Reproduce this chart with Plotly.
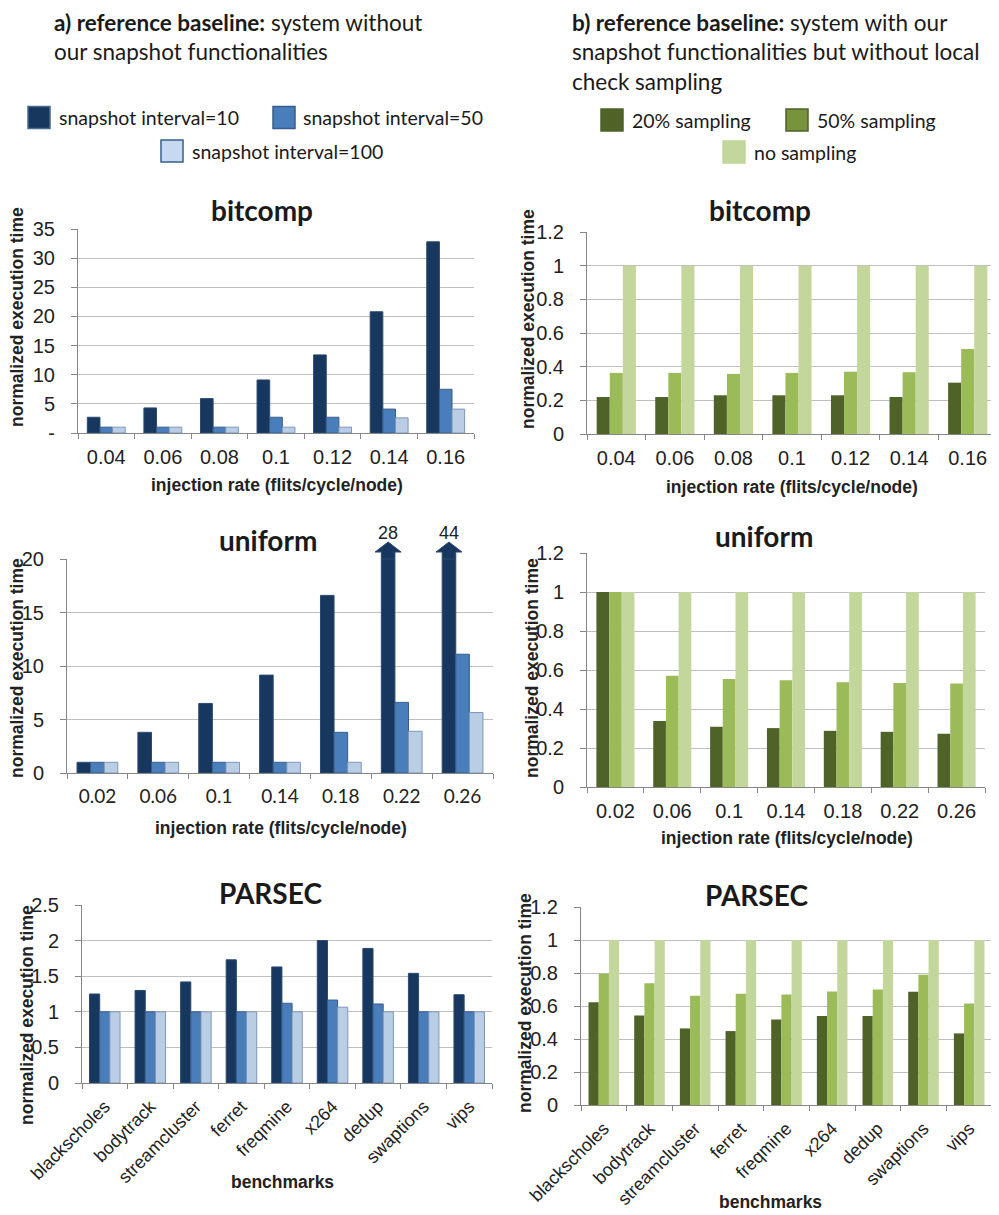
import plotly.graph_objects as go

# The page body keeps the browser's default 8px margin, so the figure is
# sized to fill the rest of the 999x1215 window exactly.
OFF = 8
W_PX, H_PX = 999 - OFF, 1215 - OFF

# ---------------- data ----------------
inj_bitcomp = ["0.04", "0.06", "0.08", "0.1", "0.12", "0.14", "0.16"]
inj_uniform = ["0.02", "0.06", "0.1", "0.14", "0.18", "0.22", "0.26"]
benchmarks = ["blackscholes", "bodytrack", "streamcluster", "ferret", "freqmine",
              "x264", "dedup", "swaptions", "vips"]

left_names = ["snapshot interval=10", "snapshot interval=50", "snapshot interval=100"]
right_names = ["20% sampling", "50% sampling", "no sampling"]

# a) bitcomp
bc_int10 = [2.7, 4.3, 5.9, 9.1, 13.4, 20.8, 32.8]
bc_int50 = [1, 1, 1, 2.7, 2.7, 4.1, 7.5]
bc_int100 = [1, 1, 1, 1, 1, 2.6, 4.1]
# b) bitcomp
bc_s20 = [0.22, 0.22, 0.23, 0.23, 0.23, 0.22, 0.305]
bc_s50 = [0.363, 0.363, 0.357, 0.363, 0.37, 0.367, 0.505]
bc_none = [1, 1, 1, 1, 1, 1, 1]

# a) uniform
un_int10 = [1.0, 3.8, 6.5, 9.15, 16.6, 28, 44]
un_int50 = [1, 1, 1, 1, 3.8, 6.6, 11.1]
un_int100 = [1, 1, 1, 1, 1, 3.9, 5.65]
# b) uniform
un_s20 = [1.0, 0.339, 0.309, 0.302, 0.288, 0.283, 0.273]
un_s50 = [1.0, 0.571, 0.554, 0.547, 0.537, 0.533, 0.531]
un_none = [1, 1, 1, 1, 1, 1, 1]

# a) PARSEC
pa_int10 = [1.25, 1.30, 1.42, 1.73, 1.63, 2.0, 1.89, 1.54, 1.24]
pa_int50 = [1, 1, 1, 1, 1.12, 1.165, 1.11, 1, 1]
pa_int100 = [1, 1, 1, 1, 1, 1.065, 1, 1, 1]
# b) PARSEC
pa_s20 = [0.623, 0.542, 0.464, 0.448, 0.518, 0.539, 0.539, 0.686, 0.434]
pa_s50 = [0.795, 0.738, 0.662, 0.674, 0.670, 0.688, 0.700, 0.789, 0.615]
pa_none = [1, 1, 1, 1, 1, 1, 1, 1, 1]

left_ticks_bitcomp = ["-", "5", "10", "15", "20", "25", "30", "35"]

# ---------------- styles ----------------
left_fill = ["#17375E", "#4A7EBB", "#B9CDE5"]
left_line = ["#2A4A72", "#385D8A", "#7D97BA"]
right_fill = ["#4F6228", "#9BBB59", "#C3D69B"]

NARROW = "Liberation Sans Narrow, Arial Narrow, Liberation Sans, sans-serif"
HEAD = "Lato, Carlito, Calibri, Open Sans, sans-serif"
AXIS_GREY = "#868686"
GRID = "#BFBFBF"
TXT = "#222222"
BARGAP = 0.33


def px(x):
    """window pixel x -> paper fraction"""
    return (x - OFF) / W_PX


def py(y):
    """window pixel y -> paper fraction"""
    return 1 - (y - OFF) / H_PX


fig = go.Figure()

panels = [
    # (suffix, cats, series, names, fills, lines, xdom px, ydom px, yrange, dtick, xtickfont)
    ("", inj_bitcomp, [bc_int10, bc_int50, bc_int100], left_names, left_fill, left_line,
     (78, 474), (229, 433), [0, 35], 5, (NARROW, 20)),
    ("2", inj_bitcomp, [bc_s20, bc_s50, bc_none], right_names, right_fill, None,
     (587, 997), (232, 434), [0, 1.2], 0.2, (NARROW, 20)),
    ("3", inj_uniform, [un_int10, un_int50, un_int100], left_names, left_fill, left_line,
     (67, 493), (559, 773), [0, 20], 5, (HEAD, 19)),
    ("4", inj_uniform, [un_s20, un_s50, un_none], right_names, right_fill, None,
     (587, 985), (553, 787), [0, 1.2], 0.2, (NARROW, 20)),
    ("5", benchmarks, [pa_int10, pa_int50, pa_int100], left_names, left_fill, left_line,
     (82, 492), (905, 1083), [0, 2.5], 0.5, (NARROW, 18)),
    ("6", benchmarks, [pa_s20, pa_s50, pa_none], right_names, right_fill, None,
     (581, 992), (907, 1105), [0, 1.2], 0.2, (NARROW, 18)),
]

layout_axes = {}
for suf, cats, series, names, fills, lines, xd, yd, yr, dt, xf in panels:
    for k, vals in enumerate(series):
        fig.add_trace(go.Bar(
            x=cats, y=vals, name=names[k],
            marker=dict(color=fills[k],
                        line=dict(color=lines[k] if lines else fills[k],
                                  width=1 if lines else 0)),
            xaxis="x" + suf, yaxis="y" + suf, showlegend=False,
        ))
    rotated = cats is benchmarks
    xa = dict(
        domain=[px(xd[0]), px(xd[1])], anchor="y" + suf, type="category",
        categoryorder="array", categoryarray=cats, automargin=False,
        showline=True, linecolor=AXIS_GREY, linewidth=1,
        ticks="outside", tickson="boundaries", ticklen=5, tickcolor=AXIS_GREY,
        showgrid=False, zeroline=False,
        tickfont=dict(family=xf[0], size=xf[1], color=TXT),
        tickangle=-45 if rotated else 0,
        ticklabelstandoff=5 if rotated else 6,
    )
    ya = dict(
        domain=[py(yd[1]), py(yd[0])], anchor="x" + suf, range=yr, automargin=False,
        showline=True, linecolor=AXIS_GREY, linewidth=1,
        ticks="outside", ticklen=6, tickcolor=AXIS_GREY,
        showgrid=True, gridcolor=GRID, gridwidth=1, zeroline=False,
        tickfont=dict(family=NARROW, size=20, color=TXT),
        ticklabelstandoff=12,
    )
    if suf == "":
        ya["tickvals"] = [i * dt for i in range(len(left_ticks_bitcomp))]
        ya["ticktext"] = left_ticks_bitcomp
    else:
        ya["dtick"] = dt
        ya["tick0"] = 0
    layout_axes["xaxis" + suf] = xa
    layout_axes["yaxis" + suf] = ya

annotations = []
shapes = []

# panel titles
for text, x, y in [("bitcomp", 262, 210), ("bitcomp", 760, 210),
                   ("uniform", 268, 540), ("uniform", 764, 536),
                   ("PARSEC", 270, 893), ("PARSEC", 756, 895)]:
    annotations.append(dict(text="<b>%s</b>" % text, x=px(x), y=py(y), xref="paper", yref="paper",
                            xanchor="center", yanchor="middle", showarrow=False,
                            font=dict(family=HEAD, size=28, color="#1a1a1a")))

# y-axis titles
for x, y in [(17, 317), (528, 319), (17, 668), (532, 668), (27, 1015), (525, 1003)]:
    annotations.append(dict(text="<b>normalized execution time</b>", x=px(x), y=py(y),
                            xref="paper", yref="paper", xanchor="center", yanchor="middle",
                            textangle=-90, showarrow=False, borderpad=0,
                            font=dict(family=NARROW, size=17.5, color=TXT)))

# x-axis titles
for text, x, y in [("injection rate (flits/cycle/node)", 277, 485),
                   ("injection rate (flits/cycle/node)", 792, 487),
                   ("injection rate (flits/cycle/node)", 281, 828),
                   ("injection rate (flits/cycle/node)", 787, 838),
                   ("benchmarks", 282, 1182), ("benchmarks", 770, 1202)]:
    annotations.append(dict(text="<b>%s</b>" % text, x=px(x), y=py(y), xref="paper", yref="paper",
                            xanchor="center", yanchor="middle", showarrow=False,
                            font=dict(family=NARROW, size=17.5, color=TXT)))

# headers (kept inside the figure's top edge)
annotations.append(dict(
    text="<b>a) reference baseline:</b> system without<br>our snapshot functionalities",
    x=px(53), y=1.0, xref="paper", yref="paper", xanchor="left", yanchor="top",
    align="left", showarrow=False, borderpad=0,
    font=dict(family=HEAD, size=22.5, color="#1a1a1a")))
annotations.append(dict(
    text="<b>b) reference baseline:</b> system with our<br>snapshot functionalities but without local<br>check sampling",
    x=px(571), y=1.0, xref="paper", yref="paper", xanchor="left", yanchor="top",
    align="left", showarrow=False, borderpad=0,
    font=dict(family=HEAD, size=22.5, color="#1a1a1a")))

# legends (manual)
leg_items = [
    # (name, fill, outline, box x0, box y center, text x)
    (left_names[0], left_fill[0], "#4A6A90", 28, 117.5, 57),
    (left_names[1], left_fill[1], "#385D8A", 273, 117.5, 301),
    (left_names[2], "#C6D9F1", "#385D8A", 161, 151, 190),
    (right_names[0], right_fill[0], right_fill[0], 601, 120, 630),
    (right_names[1], "#77933C", "#4F6228", 786, 120, 815),
    (right_names[2], right_fill[2], right_fill[2], 723, 152, 752),
]
for name, fill, outline, bx, cy, tx in leg_items:
    shapes.append(dict(type="rect", xref="paper", yref="paper",
                       x0=px(bx), x1=px(bx + 22), y0=py(cy + 11), y1=py(cy - 11),
                       fillcolor=fill, line=dict(color=outline, width=1.5)))
    annotations.append(dict(text=name, x=px(tx), y=py(cy), xref="paper", yref="paper",
                            xanchor="left", yanchor="middle", showarrow=False,
                            font=dict(family=HEAD, size=19.5, color="#1a1a1a")))

# arrows for uniform bars that exceed the axis range
un_ymax = layout_axes["yaxis3"]["range"][1]
bar_w = (1 - BARGAP) / 3
cat_px = (493 - 67) / len(inj_uniform)
plot_h = 773 - 559
half_head = 13 / cat_px
ext = 7 / plot_h
head_h = 10 / plot_h
for i, v in enumerate(un_int10):
    if v > un_ymax:
        c = i - bar_w
        hb = bar_w / 2
        path = (f"M {c - hb},1 L {c - hb},{1 + ext} L {c - half_head},{1 + ext} "
                f"L {c},{1 + ext + head_h} L {c + half_head},{1 + ext} "
                f"L {c + hb},{1 + ext} L {c + hb},1 Z")
        shapes.append(dict(type="path", path=path, xref="x3", yref="y3 domain",
                           fillcolor=left_fill[0], line=dict(color=left_line[0], width=1)))
        annotations.append(dict(text=str(v), x=c, y=1 + ext + head_h, xref="x3",
                                yref="y3 domain", xanchor="center", yanchor="bottom",
                                showarrow=False, yshift=-3,
                                font=dict(family=NARROW, size=18, color=TXT)))

fig.update_layout(
    width=W_PX, height=H_PX,
    margin=dict(l=0, r=0, t=0, b=0, autoexpand=False),
    paper_bgcolor="white", plot_bgcolor="white",
    barmode="group", bargap=BARGAP, bargroupgap=0,
    showlegend=False,
    annotations=annotations, shapes=shapes,
    **layout_axes,
)

fig.write_html("out.html")
